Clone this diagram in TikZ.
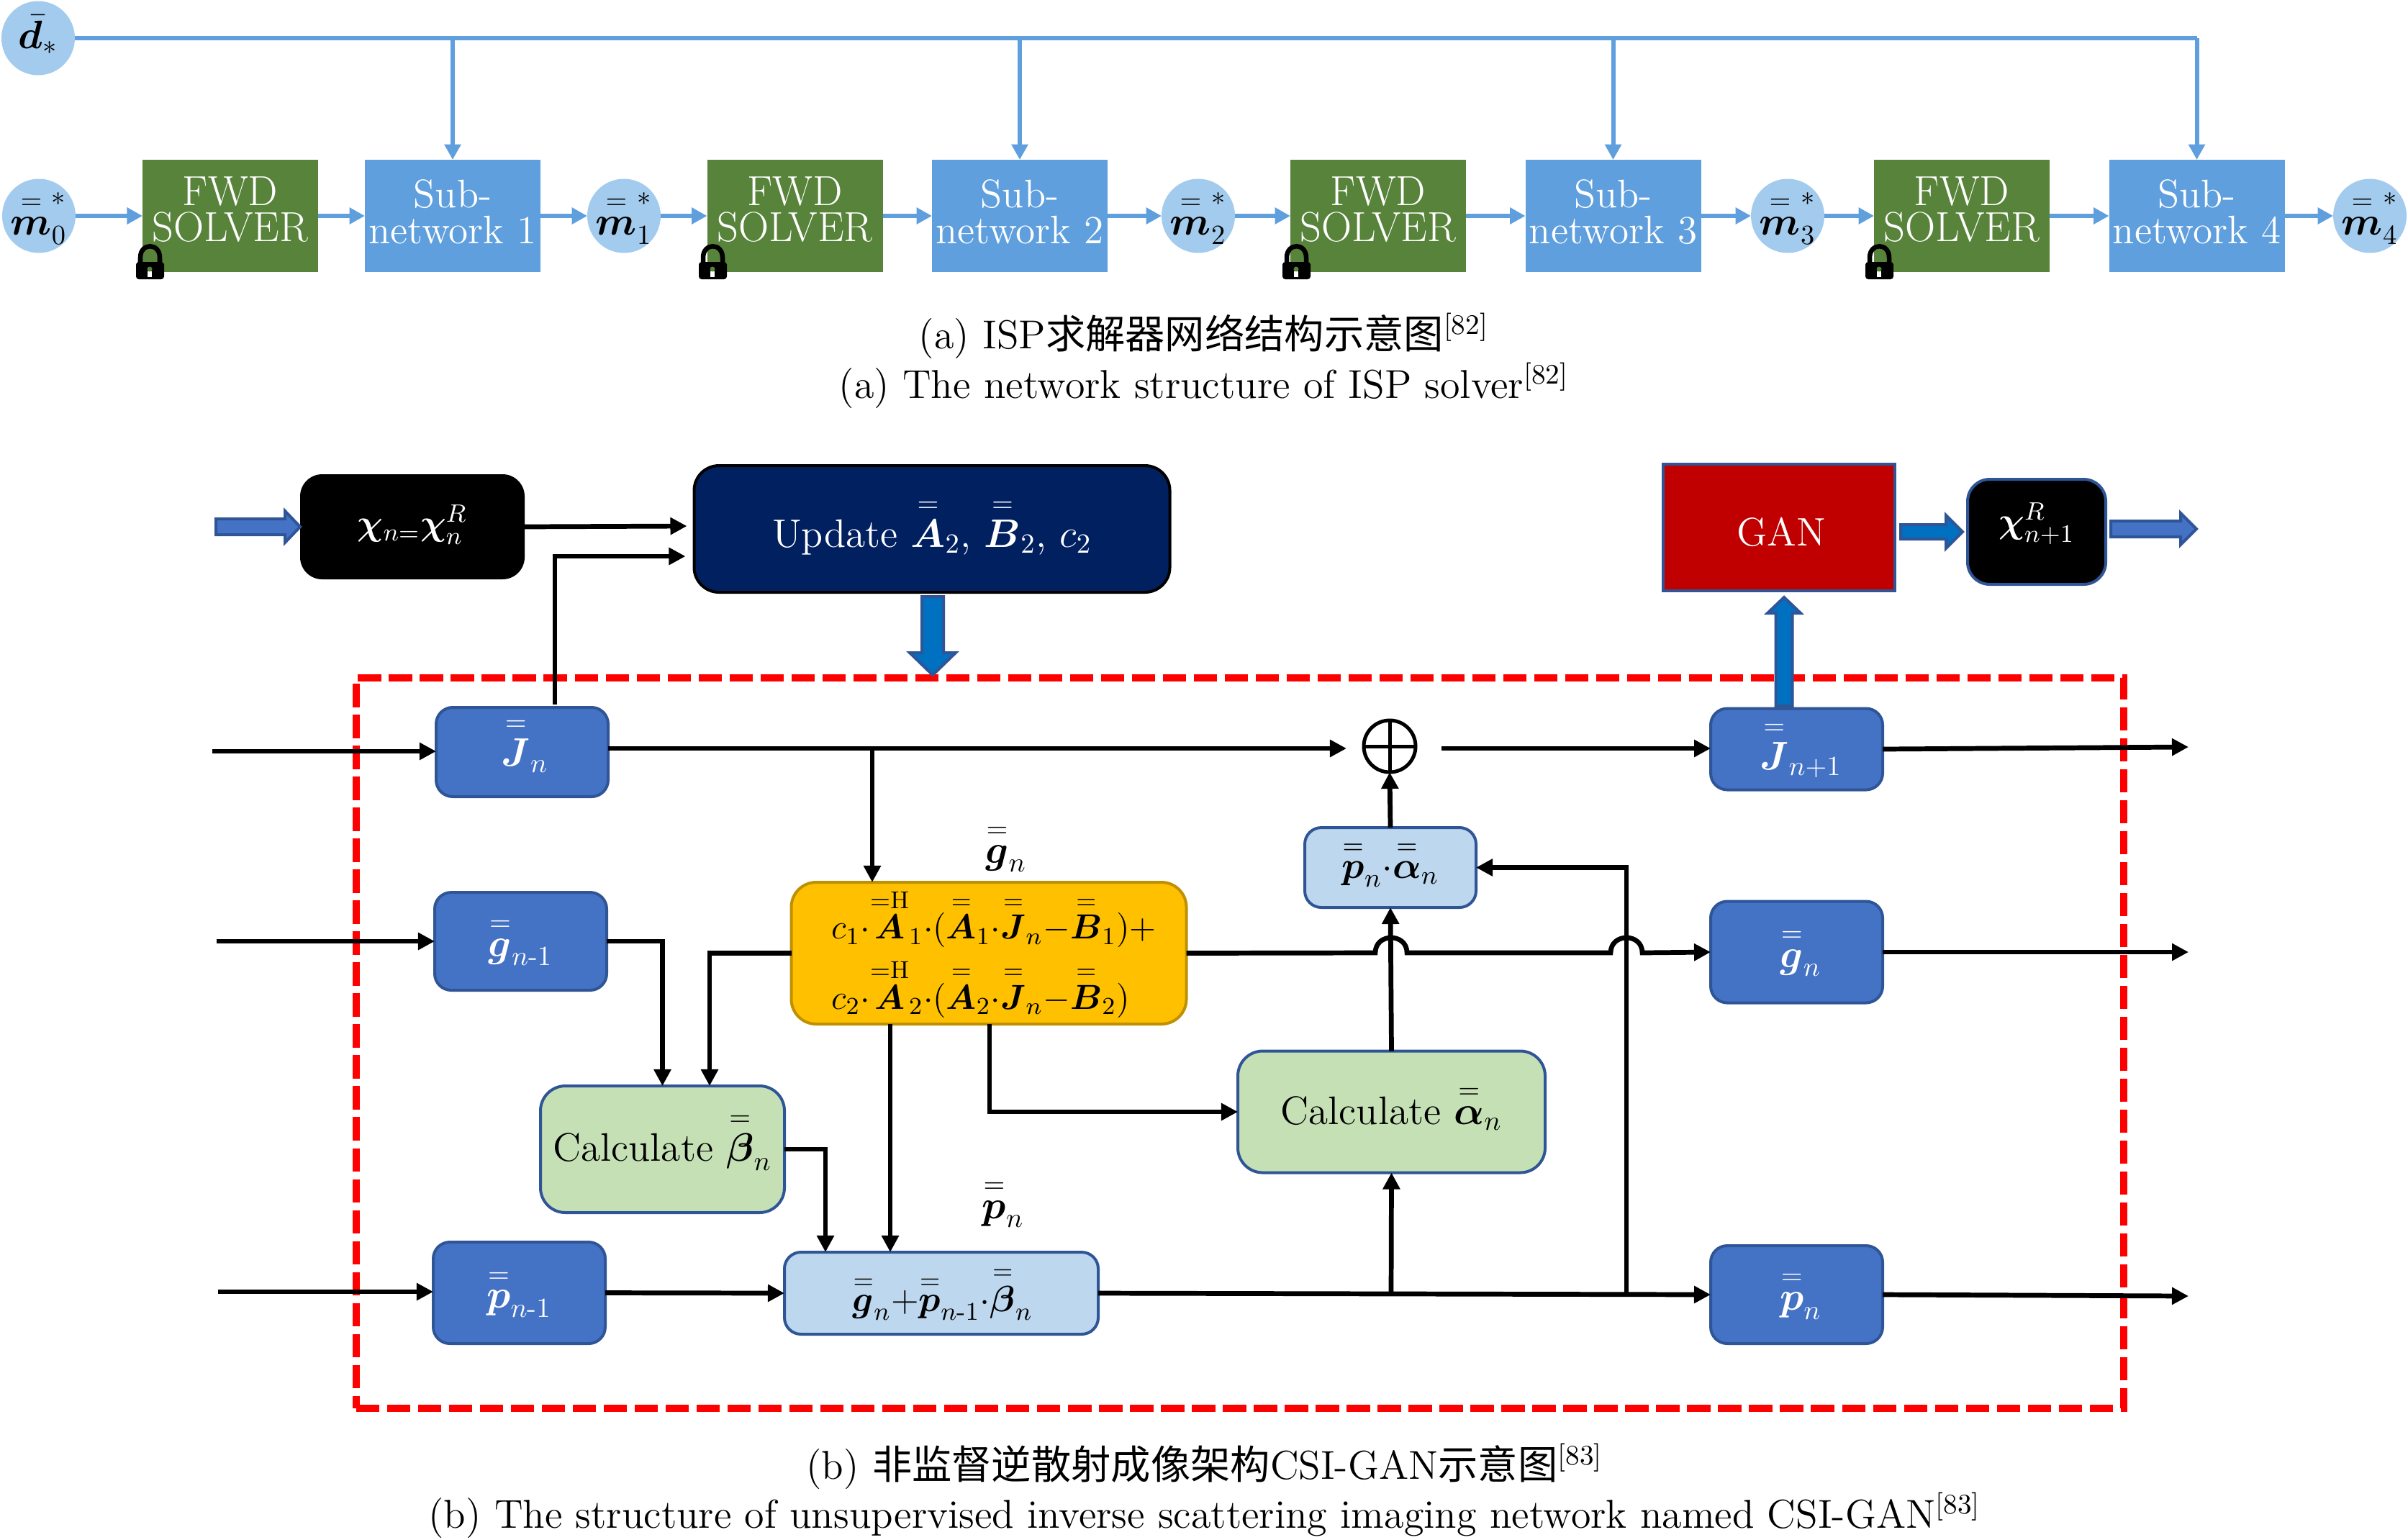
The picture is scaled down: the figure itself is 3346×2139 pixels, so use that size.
\RequirePackage{fix-cm}
\documentclass[tikz,border=0pt]{standalone}
\usepackage{amsmath,bm}
\usepackage{fontspec}
\newfontfamily\cjk{Noto Sans CJK SC}
\usetikzlibrary{arrows.meta,calc,shapes.geometric}
\definecolor{skyb}{HTML}{5F9FDD}
\definecolor{ellb}{HTML}{A3CBEE}
\definecolor{fwdg}{HTML}{58833A}
\definecolor{edgeb}{HTML}{2F5597}
\definecolor{midb}{HTML}{4472C4}
\definecolor{pureb}{HTML}{0070C0}
\definecolor{lightb}{HTML}{BDD7EE}
\definecolor{lightg}{HTML}{C5E0B4}
\definecolor{orng}{HTML}{FFC000}
\definecolor{orngE}{HTML}{BF9000}
\definecolor{navyb}{HTML}{002060}
\definecolor{ganr}{HTML}{C00000}
\newcommand{\dbar}[1]{\overset{\scriptstyle =}{\bm{#1}}}
\newcommand{\vmove}[2]{\raisebox{#1}[\height][\depth]{#2}}
\newcommand{\ballm}[1]{\raisebox{-1.1ex}[0pt][0pt]{\makebox[0pt]{$\overset{=}{\bm{m}}^{*}_{#1}$}}}
\newcommand{\blockarrow}[6]{%
  \coordinate (ba@h) at ($(#2)!#5*0.2604pt!(#1)$);
  \draw[line width=1.04pt,draw=edgeb,fill=#6,line join=miter]
   ($(#1)!#3*0.2604pt!90:(#2)$) -- ($(ba@h)!#3*0.2604pt!90:(#2)$) -- ($(ba@h)!#4*0.2604pt!90:(#2)$) -- (#2)
   -- ($(ba@h)!#4*0.2604pt!-90:(#2)$) -- ($(ba@h)!#3*0.2604pt!-90:(#2)$) -- ($(#1)!#3*0.2604pt!-90:(#2)$) -- cycle;}
\newcommand{\lockicon}[2]{%
  \begin{scope}[shift={(#1,#2)}]
   \draw[black,line width=1.7pt] (6,24) -- (6,16) .. controls (6,-5) and (33,-5) .. (33,16) -- (33,24);
   \fill[black,rounded corners=1pt] (0,22) rectangle (39,46);
   \fill[white] (16,35) rectangle (22,43);
   \fill[fwdg] (19,32) circle (3.5);
  \end{scope}}
\tikzset{
  wh/.style 2 args={minimum width=#1*0.2604pt,minimum height=#2*0.2604pt},
  every node/.style={font=\Large,inner sep=0pt,outer sep=0pt,align=center},
  ball/.style={ellipse,fill=ellb,wh={102}{103}},
  fwdbox/.style={fill=fwdg,text=white,wh={244}{156},align=center,font=\fontsize{15.2}{18}\selectfont},
  subbox/.style={fill=skyb,text=white,wh={244}{156},align=center},
  skyline/.style={draw=skyb,line width=1.55pt},
  skyarrow/.style={skyline,-{Triangle[length=5.6pt,width=5.8pt]}},
  varbox/.style={draw=edgeb,line width=1.04pt,fill=midb,text=white,rounded corners=6pt},
  lbbox/.style={draw=edgeb,line width=1.04pt,fill=lightb,rounded corners=6pt},
  lgbox/.style={draw=edgeb,line width=1.04pt,fill=lightg,rounded corners=9pt},
  blk/.style={draw=black,line width=1.75pt},
  blkarrow/.style={blk,-{Triangle[length=6pt,width=6pt]}},
  capt/.style={font=\fontsize{14.6}{17}\selectfont},
}
\begin{document}
\begin{tikzpicture}[x=0.2604pt,y=-0.2604pt]
\useasboundingbox (0,0) rectangle (3346,2139);
% ---- part (a)
\node[ball] (d) at (53,53) {\raisebox{-0.6ex}[0pt][0pt]{\makebox[0pt]{$\bar{\bm{d}}_{*}$}}};
\node[ball] (m0) at (54,300) {\ballm{0}};
\node[fwdbox] (f1) at (320,300) {FWD\\[-5pt]SOLVER\\[-13pt]\mbox{}};
\node[subbox] (s1) at (629,300) {Sub-\\[-5pt]network 1\\[-15pt]\mbox{}};
\node[ball] (m1) at (867,300) {\ballm{1}};
\node[fwdbox] (f2) at (1104.5,300) {FWD\\[-5pt]SOLVER\\[-13pt]\mbox{}};
\node[subbox] (s2) at (1417,300) {Sub-\\[-5pt]network 2\\[-15pt]\mbox{}};
\node[ball] (m2) at (1665,300) {\ballm{2}};
\node[fwdbox] (f3) at (1915,300) {FWD\\[-5pt]SOLVER\\[-13pt]\mbox{}};
\node[subbox] (s3) at (2241.5,300) {Sub-\\[-5pt]network 3\\[-15pt]\mbox{}};
\node[ball] (m3) at (2484,300) {\ballm{3}};
\node[fwdbox] (f4) at (2726,300) {FWD\\[-5pt]SOLVER\\[-13pt]\mbox{}};
\node[subbox] (s4) at (3052.5,300) {Sub-\\[-5pt]network 4\\[-15pt]\mbox{}};
\node[ball] (m4) at (3293,300) {\ballm{4}};
\draw[skyline] (d.east) -- (s4.north |- d.east);
\foreach \s in {s1,s2,s3,s4} \draw[skyarrow] (\s.north |- d.east) -- (\s.north);
\foreach \a/\b in {m0/f1,f1/s1,s1/m1,m1/f2,f2/s2,s2/m2,m2/f3,f3/s3,s3/m3,m3/f4,f4/s4,s4/m4}
  \draw[skyarrow] (\a.east) -- (\b.west);
\lockicon{189}{342}
\lockicon{971}{342}
\lockicon{1782}{342}
\lockicon{2592}{342}
\node[capt] (cap1) at (1673,467) {(a) ISP{\cjk\fontsize{14.4}{15}\selectfont 求解器网络结构示意图}\textsuperscript{[82]}};
\node[capt] (cap2) at (1673,536) {(a) The network structure of ISP solver\textsuperscript{[82]}};
% ---- part (b)
\node[draw=red,line width=2.8pt,dash pattern=on 8.4pt off 2.8pt,wh={2456}{1015}] (frame) at (1723,1449.5) {};
\node[fill=black,text=white,rounded corners=8pt,wh={312}{146},font=\fontsize{13}{15}\selectfont] (chi) at (573,732) {\vmove{0.8pt}{$\bm{\chi}_{n=}\bm{\chi}_{n}^{R}$}};
\node[fill=navyb,draw=black,line width=1.04pt,text=white,rounded corners=9pt,wh={661}{176}] (upd) at (1295,735) {\vmove{1pt}{Update $\dbar{A}_{2}$, $\dbar{B}_{2}$, $c_{2}$}};
\node[fill=ganr,draw=edgeb,line width=1.04pt,text=white,wh={322}{176}] (gan) at (2472,733) {\hspace*{1.6pt}\vmove{-1.6pt}{GAN}};
\node[fill=black,draw=edgeb,line width=1.04pt,text=white,rounded corners=8pt,wh={192}{146},font=\fontsize{13}{15}\selectfont] (chin) at (2830,739) {\vmove{3pt}{$\bm{\chi}_{n+1}^{R}$}};
\node[varbox,wh={239}{124}] (jn) at (725.5,1045) {\hspace*{2pt}\vmove{2.7pt}{$\dbar{J}_{n}$}};
\node[varbox,wh={239}{136}] (gm) at (723.5,1308) {$\dbar{g}_{n\text{-}1}$};
\node[varbox,wh={239}{141}] (pm) at (721.5,1796.5) {$\dbar{p}_{n\text{-}1}$};
\node[varbox,wh={239}{113}] (jp) at (2496.5,1041) {\hspace*{3pt}$\dbar{J}_{n+1}$};
\node[varbox,wh={239}{141}] (gn) at (2496.5,1323) {\hspace*{3pt}$\dbar{g}_{n}$};
\node[varbox,wh={239}{136}] (pn) at (2496.5,1799) {\hspace*{3pt}$\dbar{p}_{n}$};
\node[draw=orngE,line width=1.04pt,fill=orng,rounded corners=9pt,wh={549}{197},align=left,font=\fontsize{12.6}{15}\selectfont] (core) at (1374,1324.5) {%
  \hspace*{3.6pt}$c_{1}{\cdot}\overset{\scriptstyle =\mathrm{H}}{\bm{A}}_{1}{\cdot}(\dbar{A}_{1}{\cdot}\dbar{J}_{n}{-}\dbar{B}_{1}){+}$\\[3pt]
  \hspace*{3.6pt}$c_{2}{\cdot}\overset{\scriptstyle =\mathrm{H}}{\bm{A}}_{2}{\cdot}(\dbar{A}_{2}{\cdot}\dbar{J}_{n}{-}\dbar{B}_{2})$};
\node (glab) at (1398,1178) {$\dbar{g}_{n}$};
\node (plab) at (1394,1672) {$\dbar{p}_{n}$};
\node[lbbox,wh={238}{111},font=\fontsize{13.6}{16}\selectfont] (pa) at (1932,1205.5) {\vmove{1.5pt}{$\dbar{p}_{n}{\cdot}\dbar{\alpha}_{n}$}};
\node[lgbox,wh={427}{169}] (ca) at (1933.5,1545) {\vmove{1.6pt}{Calculate $\dbar{\alpha}_{n}$}};
\node[lgbox,wh={339}{176}] (cb) at (920.5,1597) {\vmove{3pt}{Calculate $\dbar{\beta}_{n}$}};
\node[lbbox,wh={436}{114},font=\fontsize{13.2}{16}\selectfont] (pc) at (1308,1797) {\hspace*{1pt}$\dbar{g}_{n}{+}\dbar{p}_{n\text{-}1}{\cdot}\dbar{\beta}_{n}$};
\node[circle,draw=black,line width=1.3pt,wh={72}{72}] (plus) at (1931,1037) {};
\draw[black,line width=1.3pt] (plus.north) -- (plus.south) (plus.west) -- (plus.east);
% free ends
\coordinate (inj) at (295,1044);
\coordinate (ing) at (301,1308);
\coordinate (inp) at (303,1795);
\coordinate (outj) at (3041,1038);
\coordinate (outg) at (3041,1323);
\coordinate (outp) at (3041,1801);
% black connectors
\draw[blkarrow] (chi.east) -- ($(upd.west)+(-10,-4)$);
\draw[blkarrow] (771,979) |- ($(upd.west)+(-12,38)$);
\draw[blkarrow] (inj) -- (jn.west |- inj);
\draw[blkarrow] ($(jn.east)+(0,-5)$) -- ($(plus.west)+(-24,3)$);
\draw[blkarrow] ($(plus.east)+(36,3)$) -- ($(jp.west)+(0,-1)$);
\draw[blkarrow] (jp.east) -- (outj);
\draw[blkarrow] (1212,1040) -- (1212,1226);
\draw[blkarrow] (ing) -- (gm.west);
\draw[blkarrow] (inp) -- (pm.west |- inp);
\draw[blkarrow] (gm.east) -| (cb.north);
\draw[blkarrow] (core.west) -| (986,1509);
\draw[blkarrow] (cb.east) -| (1147,1740);
\draw[blkarrow] (1237,1423) -- (1237,1740);
\draw[blkarrow] (1375,1423) |- (ca.west);
\draw[blkarrow] (pm.east) -- (pc.west);
\draw[blkarrow] (pc.east) -- (pn.west);
\draw[blkarrow] (pn.east) -- (outp);
\draw[blkarrow] (ca.north) -- (pa.south);
\draw[blkarrow] (pa.north) -- (plus.south);
\draw[blkarrow] (1933,1798) -- (ca.south);
\draw[blkarrow] (2260,1798) |- (pa.east);
\draw[blkarrow] (core.east) -- (1911,1324) .. controls +(0,-28) and +(0,-28) .. (1955,1324) -- (2238,1324) .. controls +(0,-28) and +(0,-28) .. (2282,1324) -- (gn.west);
\draw[blkarrow] (gn.east) -- (outg);
% block arrows
\coordinate (bi) at (300,732);
\coordinate (bo) at (3052,735);
\coordinate (bd1) at (1296,829);
\coordinate (bd2) at (1296,938);
\coordinate (bu1) at (2479,981);
\coordinate (bu2) at (2479,830);
\coordinate (bg1) at (2641,739);
\coordinate (bg2) at (2727,739);
\coordinate (bc1) at (2933,735);
\blockarrow{bi}{chi.west}{11}{22}{21}{midb}
\blockarrow{bd1}{bd2}{15}{32}{31}{pureb}
\blockarrow{bu1}{bu2}{11.5}{23}{22}{pureb}
\blockarrow{bg1}{bg2}{10}{23}{23}{pureb}
\blockarrow{bc1}{bo}{11}{22}{22}{midb}
\node[capt] (cap3) at (1674,2038) {(b) {\cjk\fontsize{14.4}{15}\selectfont 非监督逆散射成像架构}CSI-GAN{\cjk\fontsize{14.4}{15}\selectfont 示意图}\textsuperscript{[83]}};
\node[capt] (cap4) at (1674,2106) {(b) The structure of unsupervised inverse scattering imaging network named CSI-GAN\textsuperscript{[83]}};
\end{tikzpicture}
\end{document}
